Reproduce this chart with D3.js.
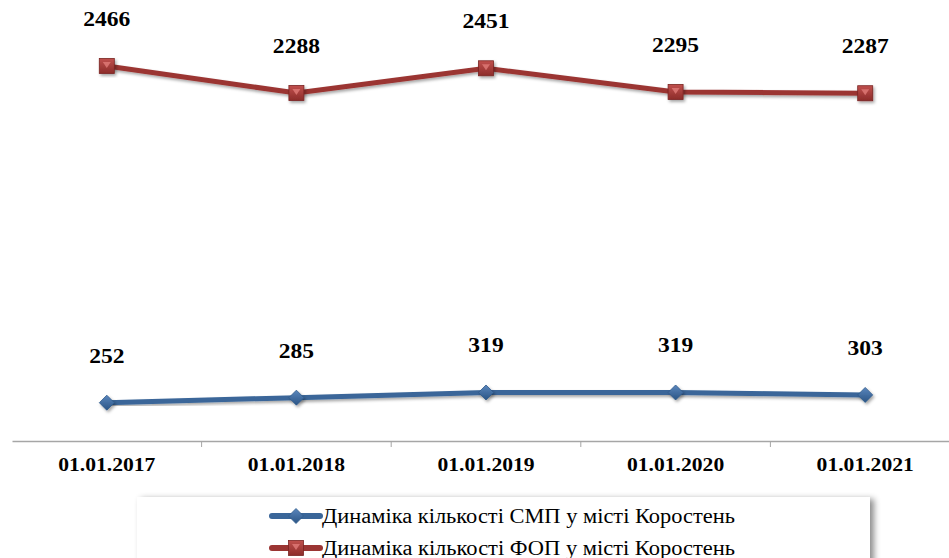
<!DOCTYPE html>
<html>
<head>
<meta charset="utf-8">
<script src="https://cdn.jsdelivr.net/npm/d3@7"></script>
<style>
  body { margin: 0; background: #fff; }
  svg { display: block; }
</style>
</head>
<body>
<div id="chart"></div>
<script>
// chart data
const dates = ["01.01.2017", "01.01.2018", "01.01.2019", "01.01.2020", "01.01.2021"];
const smpValues = [252, 285, 319, 319, 303];
const fopValues = [2466, 2288, 2451, 2295, 2287];
const seriesNames = [
  "Динаміка кількості СМП у місті Коростень",
  "Динаміка кількості ФОП у місті Коростень"
];

const width = 949, height = 558;
const serif = "'Liberation Serif', 'Times New Roman', serif";

const svg = d3.select("#chart").append("svg")
  .attr("width", width)
  .attr("height", height);

const defs = svg.append("defs");
const shadow = defs.append("filter").attr("id", "shadow")
  .attr("x", "-30%").attr("y", "-30%").attr("width", "160%").attr("height", "160%");
shadow.append("feDropShadow").attr("dx", 1.5).attr("dy", 2).attr("stdDeviation", 1.5)
  .attr("flood-color", "#000").attr("flood-opacity", 0.35);
const boxShadow = defs.append("filter").attr("id", "boxShadow")
  .attr("x", "-5%").attr("y", "-20%").attr("width", "110%").attr("height", "140%");
boxShadow.append("feDropShadow").attr("dx", 4).attr("dy", 2).attr("stdDeviation", 3)
  .attr("flood-color", "#000").attr("flood-opacity", 0.45);

const redGrad = defs.append("linearGradient").attr("id", "redGrad")
  .attr("x1", 0).attr("y1", 0).attr("x2", 0).attr("y2", 1);
redGrad.append("stop").attr("offset", "0%").attr("stop-color", "#c0504d");
redGrad.append("stop").attr("offset", "100%").attr("stop-color", "#8c2c2a");
const blueGrad = defs.append("linearGradient").attr("id", "blueGrad")
  .attr("x1", 0).attr("y1", 0).attr("x2", 0).attr("y2", 1);
blueGrad.append("stop").attr("offset", "0%").attr("stop-color", "#5a86bd");
blueGrad.append("stop").attr("offset", "100%").attr("stop-color", "#2b5585");

// the source picture is stretched horizontally a bit, so widen text to match
function stretch(sel, factor) {
  sel.each(function () {
    const w = this.getComputedTextLength();
    d3.select(this).attr("textLength", w * factor).attr("lengthAdjust", "spacingAndGlyphs");
  });
}

// scales
const x = d3.scaleBand().domain(dates).range([12, 960]);
const y = d3.scaleLinear().domain([0, 2900]).range([441, 0]);
const cx = d => x(d) + x.bandwidth() / 2;

// x axis
const xAxis = svg.append("g")
  .attr("transform", `translate(0,${y(0)})`)
  .call(d3.axisBottom(x).tickSize(0).tickPadding(17));
xAxis.select(".domain").attr("stroke", "#a6a6a6").attr("stroke-width", 1.5);
xAxis.selectAll(".tick text")
  .attr("font-family", serif)
  .attr("font-weight", "bold")
  .attr("font-size", 18)
  .attr("fill", "#000")
  .call(stretch, 1.2);
// category boundary ticks
svg.append("g").selectAll("line")
  .data(dates.slice(1))
  .join("line")
  .attr("x1", d => x(d)).attr("x2", d => x(d))
  .attr("y1", y(0)).attr("y2", y(0) + 6)
  .attr("stroke", "#a6a6a6").attr("stroke-width", 1);

const line = d3.line().x(d => cx(d.date)).y(d => y(d.value));

const series = [
  { name: seriesNames[0], values: smpValues, color: "#3a6699", marker: "diamond" },
  { name: seriesNames[1], values: fopValues, color: "#9b3533", marker: "square" }
];

function drawMarker(g, type) {
  if (type === "diamond") {
    g.append("path")
      .attr("d", "M0,-7.5L7.5,0L0,7.5L-7.5,0Z")
      .attr("fill", "url(#blueGrad)")
      .attr("stroke", "#2f5b8c").attr("stroke-width", 0.8);
  } else {
    g.append("rect")
      .attr("x", -7.5).attr("y", -7.5).attr("width", 15).attr("height", 15)
      .attr("fill", "url(#redGrad)")
      .attr("stroke", "#7a2422").attr("stroke-width", 0.8);
    g.append("path")
      .attr("d", "M-4,-4L4,-4L0,2Z")
      .attr("fill", "#e07a78").attr("opacity", 0.8);
  }
}

series.forEach(s => {
  const pts = dates.map((d, i) => ({ date: d, value: s.values[i] }));
  svg.append("path")
    .datum(pts)
    .attr("d", line)
    .attr("fill", "none")
    .attr("stroke", s.color)
    .attr("stroke-width", 5)
    .attr("filter", "url(#shadow)");

  svg.append("g").selectAll("g")
    .data(pts)
    .join("g")
    .attr("transform", d => `translate(${cx(d.date)},${y(d.value)})`)
    .attr("filter", "url(#shadow)")
    .each(function () { drawMarker(d3.select(this), s.marker); });

  svg.append("g").selectAll("text")
    .data(pts)
    .join("text")
    .attr("x", d => cx(d.date))
    .attr("y", d => y(d.value) - 40)
    .attr("text-anchor", "middle")
    .attr("font-family", serif)
    .attr("font-weight", "bold")
    .attr("font-size", 21)
    .attr("fill", "#000")
    .text(d => d.value)
    .call(stretch, 1.12);
});

// legend
const legend = svg.append("g");
legend.append("rect")
  .attr("x", 137).attr("y", 497).attr("width", 733).attr("height", 80)
  .attr("fill", "#fff")
  .attr("filter", "url(#boxShadow)");

series.forEach((s, i) => {
  const ly = 516 + i * 32;
  const g = legend.append("g");
  g.append("line")
    .attr("x1", 272).attr("x2", 320).attr("y1", ly).attr("y2", ly)
    .attr("stroke", s.color).attr("stroke-width", 6)
    .attr("stroke-linecap", "round");
  const m = g.append("g").attr("transform", `translate(296,${ly})`);
  drawMarker(m, s.marker);
  g.append("text")
    .attr("x", 322).attr("y", ly)
    .attr("dy", "0.35em")
    .attr("font-family", serif)
    .attr("font-size", 20)
    .attr("textLength", 413)
    .attr("lengthAdjust", "spacingAndGlyphs")
    .attr("fill", "#000")
    .text(s.name);
});
</script>
</body>
</html>
